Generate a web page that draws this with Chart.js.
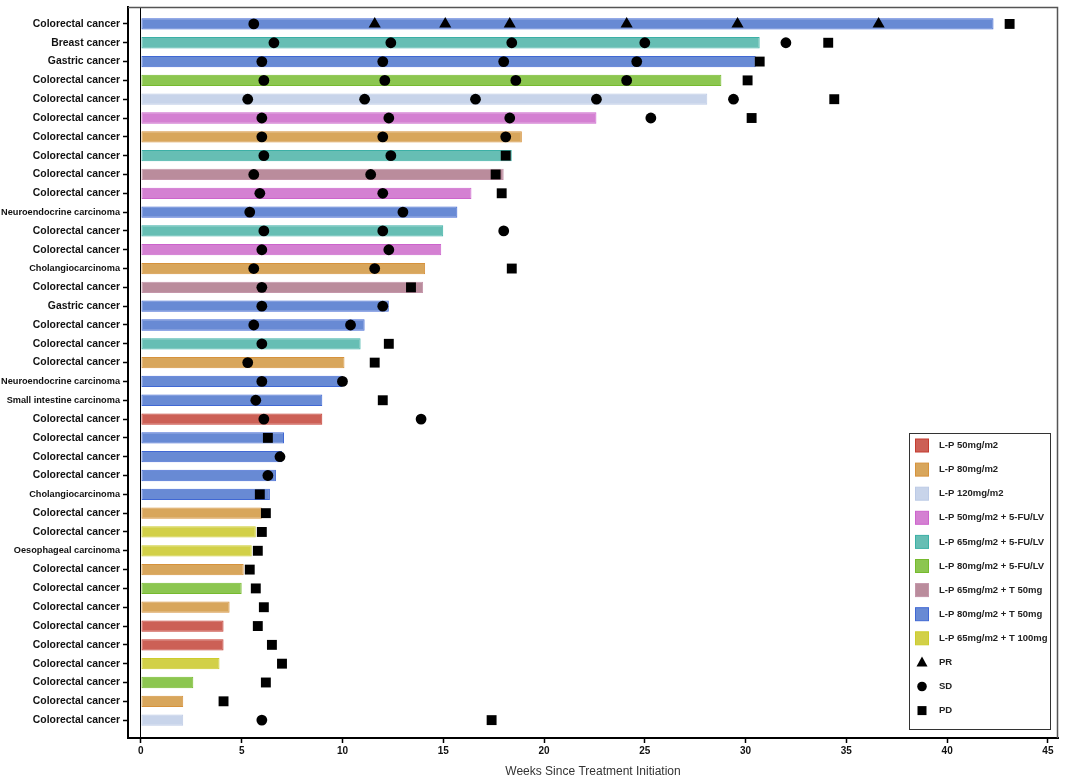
<!DOCTYPE html>
<html>
<head>
<meta charset="utf-8">
<title>Swimmer plot</title>
<script src="https://cdn.jsdelivr.net/npm/chart.js@4.4.1/dist/chart.umd.min.js"></script>
<style>
  html, body { margin: 0; padding: 0; background: #fff; }
  #wrap { width: 1065px; height: 779px; }
</style>
</head>
<body>
<div id="wrap"><canvas id="swimmer"></canvas></div>
<script>
// treatment arms (legend order)
const treatments = [
    'L-P 50mg/m2',
    'L-P 80mg/m2',
    'L-P 120mg/m2',
    'L-P 50mg/m2 + 5-FU/LV',
    'L-P 65mg/m2 + 5-FU/LV',
    'L-P 80mg/m2 + 5-FU/LV',
    'L-P 65mg/m2 + T 50mg',
    'L-P 80mg/m2 + T 50mg',
    'L-P 65mg/m2 + T 100mg'
];
const treatmentFill = [
    'rgb(204,96,86)', 'rgb(216,166,92)', 'rgb(200,212,234)',
    'rgb(212,128,210)', 'rgb(102,190,180)', 'rgb(140,198,80)',
    'rgb(186,140,156)', 'rgb(104,138,212)', 'rgb(210,208,72)'
];
const treatmentBorder = [
    'rgb(196,60,48)', 'rgb(214,146,60)', 'rgb(188,202,230)',
    'rgb(204,100,204)', 'rgb(60,176,166)', 'rgb(118,186,46)',
    'rgb(196,150,170)', 'rgb(64,104,212)', 'rgb(204,204,44)'
];

// one entry per patient, top to bottom
const cancerTypes = [
    'Colorectal cancer', 'Breast cancer', 'Gastric cancer', 'Colorectal cancer',
    'Colorectal cancer', 'Colorectal cancer', 'Colorectal cancer', 'Colorectal cancer',
    'Colorectal cancer', 'Colorectal cancer', 'Neuroendocrine carcinoma', 'Colorectal cancer',
    'Colorectal cancer', 'Cholangiocarcinoma', 'Colorectal cancer', 'Gastric cancer',
    'Colorectal cancer', 'Colorectal cancer', 'Colorectal cancer', 'Neuroendocrine carcinoma',
    'Small intestine carcinoma', 'Colorectal cancer', 'Colorectal cancer', 'Colorectal cancer',
    'Colorectal cancer', 'Cholangiocarcinoma', 'Colorectal cancer', 'Colorectal cancer',
    'Oesophageal carcinoma', 'Colorectal cancer', 'Colorectal cancer', 'Colorectal cancer',
    'Colorectal cancer', 'Colorectal cancer', 'Colorectal cancer', 'Colorectal cancer',
    'Colorectal cancer', 'Colorectal cancer'
];
// index into treatments
const patientTreatment = [
    7, 4, 7, 5, 2, 3, 1, 4, 6, 3,
    7, 4, 3, 1, 6, 7, 7, 4, 1, 7,
    7, 0, 7, 7, 7, 7, 1, 8, 8, 1,
    5, 1, 0, 0, 8, 5, 1, 2
];
const weeksOnTreatment = [
    42.3, 30.7, 30.5, 28.8, 28.1, 22.6, 18.9, 18.4, 18.0, 16.4,
    15.7, 15.0, 14.9, 14.1, 14.0, 12.3, 11.1, 10.9, 10.1, 10.0,
    9.0, 9.0, 7.1, 7.0, 6.7, 6.4, 6.0, 5.7, 5.5, 5.1,
    5.0, 4.4, 4.1, 4.1, 3.9, 2.6, 2.1, 2.1
];

// response assessments (weeks) per patient
const prWeeks = [
    [11.6, 15.1, 18.3, 24.1, 29.6, 36.6], [], [], [], [], [], [], [], [], [],
    [], [], [], [], [], [], [], [], [], [],
    [], [], [], [], [], [], [], [], [], [],
    [], [], [], [], [], [], [], []
];
const sdWeeks = [
    [5.6], [6.6, 12.4, 18.4, 25.0, 32.0], [6.0, 12.0, 18.0, 24.6], [6.1, 12.1, 18.6, 24.1],
    [5.3, 11.1, 16.6, 22.6, 29.4], [6.0, 12.3, 18.3, 25.3], [6.0, 12.0, 18.1], [6.1, 12.4],
    [5.6, 11.4], [5.9, 12.0], [5.4, 13.0], [6.1, 12.0, 18.0],
    [6.0, 12.3], [5.6, 11.6], [6.0], [6.0, 12.0],
    [5.6, 10.4], [6.0], [5.3], [6.0, 10.0],
    [5.7], [6.1, 13.9], [], [6.9],
    [6.3], [], [], [],
    [], [], [], [],
    [], [], [], [],
    [], [6.0]
];
const pdWeeks = [
    [43.1], [34.1], [30.7], [30.1], [34.4], [30.3], [], [18.1], [17.6], [17.9],
    [], [], [], [18.4], [13.4], [], [], [12.3], [11.6], [],
    [12.0], [], [6.3], [], [], [5.9], [6.2], [6.0], [5.8], [5.4],
    [5.7], [6.1], [5.8], [6.5], [7.0], [6.2], [4.1], [17.4]
];

const xTicks = [0, 5, 10, 15, 20, 25, 30, 35, 40, 45];

function toPoints(rows) {
    const pts = [];
    rows.forEach((weeks, i) => weeks.forEach(w => pts.push({ x: w, y: i })));
    return pts;
}

const FONT = 'Liberation Sans, Arial, sans-serif';

// frame top/right + legend box in the lower right corner of the plot
const boxLegend = {
    id: 'boxLegend',
    afterDraw(chart) {
        const { ctx, chartArea } = chart;

        ctx.save();
        ctx.strokeStyle = '#555';
        ctx.lineWidth = 1.5;
        ctx.beginPath();
        ctx.moveTo(chartArea.left, chartArea.top + 0.5);
        ctx.lineTo(chartArea.right - 0.5, chartArea.top + 0.5);
        ctx.lineTo(chartArea.right - 0.5, chartArea.bottom);
        ctx.stroke();

        const w = 141, h = 296;
        const x0 = chartArea.right - 8 - w;
        const y0 = chartArea.bottom - 9 - h;
        ctx.fillStyle = '#fff';
        ctx.fillRect(x0, y0, w, h);
        ctx.strokeStyle = '#333';
        ctx.lineWidth = 1;
        ctx.strokeRect(x0 + 0.5, y0 + 0.5, w, h);

        const step = 24.1;
        const cx = x0 + 13;
        ctx.font = 'bold 9.5px ' + FONT;
        ctx.textBaseline = 'middle';
        ctx.textAlign = 'left';

        const items = treatments.map((t, i) => ({ text: t, kind: 'box', i }))
            .concat([{ text: 'PR', kind: 'triangle' }, { text: 'SD', kind: 'circle' }, { text: 'PD', kind: 'rect' }]);

        items.forEach((it, k) => {
            const cy = y0 + 12.5 + k * step;
            if (it.kind === 'box') {
                ctx.fillStyle = treatmentFill[it.i];
                ctx.fillRect(cx - 6.5, cy - 6.5, 13, 13);
                ctx.strokeStyle = treatmentBorder[it.i];
                ctx.strokeRect(cx - 6.5, cy - 6.5, 13, 13);
            } else {
                ctx.fillStyle = '#000';
                ctx.beginPath();
                if (it.kind === 'triangle') {
                    ctx.moveTo(cx, cy - 6);
                    ctx.lineTo(cx + 5.5, cy + 4);
                    ctx.lineTo(cx - 5.5, cy + 4);
                    ctx.closePath();
                } else if (it.kind === 'circle') {
                    ctx.arc(cx, cy, 4.8, 0, Math.PI * 2);
                } else {
                    ctx.rect(cx - 4.5, cy - 4.5, 9, 9);
                }
                ctx.fill();
            }
            ctx.fillStyle = '#222';
            ctx.fillText(it.text, x0 + 30, cy);
        });
        ctx.restore();
    }
};

new Chart(document.getElementById('swimmer'), {
    type: 'bar',
    data: {
        datasets: [
            {
                type: 'scatter',
                label: 'PR',
                data: toPoints(prWeeks),
                pointStyle: 'triangle',
                pointRadius: 7,
                backgroundColor: '#000',
                borderWidth: 0,
                order: 1
            },
            {
                type: 'scatter',
                label: 'SD',
                data: toPoints(sdWeeks),
                pointStyle: 'circle',
                pointRadius: 5.4,
                backgroundColor: '#000',
                borderWidth: 0,
                order: 1
            },
            {
                type: 'scatter',
                label: 'PD',
                data: toPoints(pdWeeks),
                pointStyle: 'rect',
                pointRadius: 7,
                backgroundColor: '#000',
                borderWidth: 0,
                order: 1
            },
            {
                type: 'bar',
                label: 'Weeks on treatment',
                data: weeksOnTreatment.map((w, i) => ({ x: w, y: i })),
                backgroundColor: patientTreatment.map(t => treatmentFill[t]),
                borderColor: patientTreatment.map(t => treatmentBorder[t]),
                borderWidth: 1,
                borderSkipped: false,
                barPercentage: 0.6,
                categoryPercentage: 1,
                order: 2
            }
        ]
    },
    options: {
        indexAxis: 'y',
        responsive: true,
        maintainAspectRatio: false,
        animation: false,
        layout: { padding: { top: 3, right: 3, left: 0, bottom: 0 } },
        plugins: {
            legend: { display: false },
            tooltip: { enabled: false }
        },
        scales: {
            x: {
                type: 'linear',
                position: 'bottom',
                offset: false,
                min: -0.64,
                max: 45.5,
                afterBuildTicks: scale => { scale.ticks = xTicks.map(v => ({ value: v })); },
                afterFit: scale => {
                    scale.height = 41;
                    scale.paddingLeft = 0;
                    scale.paddingRight = 0;
                },
                ticks: {
                    autoSkip: false,
                    maxRotation: 0,
                    padding: 2,
                    color: '#111',
                    font: { family: FONT, size: 10, weight: 'bold' }
                },
                grid: {
                    offset: false,
                    drawOnChartArea: true,
                    color: c => (c.tick && c.tick.value === 0 ? '#000' : 'rgba(0,0,0,0)'),
                    lineWidth: 1,
                    tickColor: '#000',
                    tickLength: 5,
                    tickWidth: 1.5
                },
                border: { display: true, color: '#000', width: 2 },
                title: {
                    display: true,
                    text: 'Weeks Since Treatment Initiation',
                    color: '#333',
                    font: { family: FONT, size: 12 },
                    padding: { top: 0, bottom: 0 }
                }
            },
            y: {
                type: 'linear',
                position: 'left',
                offset: false,
                reverse: true,
                min: -0.9,
                max: 37.95,
                afterBuildTicks: scale => { scale.ticks = cancerTypes.map((_, i) => ({ value: i })); },
                afterFit: scale => {
                    scale.width = 128;
                    scale.paddingTop = 0;
                    scale.paddingBottom = 0;
                },
                ticks: {
                    autoSkip: false,
                    padding: 3,
                    color: '#111',
                    callback: value => cancerTypes[value],
                    // long "carcinoma" labels are set tighter in the original
                    font: c => ({
                        family: FONT,
                        weight: 'bold',
                        size: c.tick && String(c.tick.label).indexOf('carcinoma') >= 0 ? 9.2 : 10.4
                    })
                },
                grid: {
                    offset: false,
                    drawOnChartArea: false,
                    tickColor: '#000',
                    tickLength: 5,
                    tickWidth: 1.5
                },
                border: { display: true, color: '#000', width: 2 }
            }
        }
    },
    plugins: [boxLegend]
});
</script>
</body>
</html>
